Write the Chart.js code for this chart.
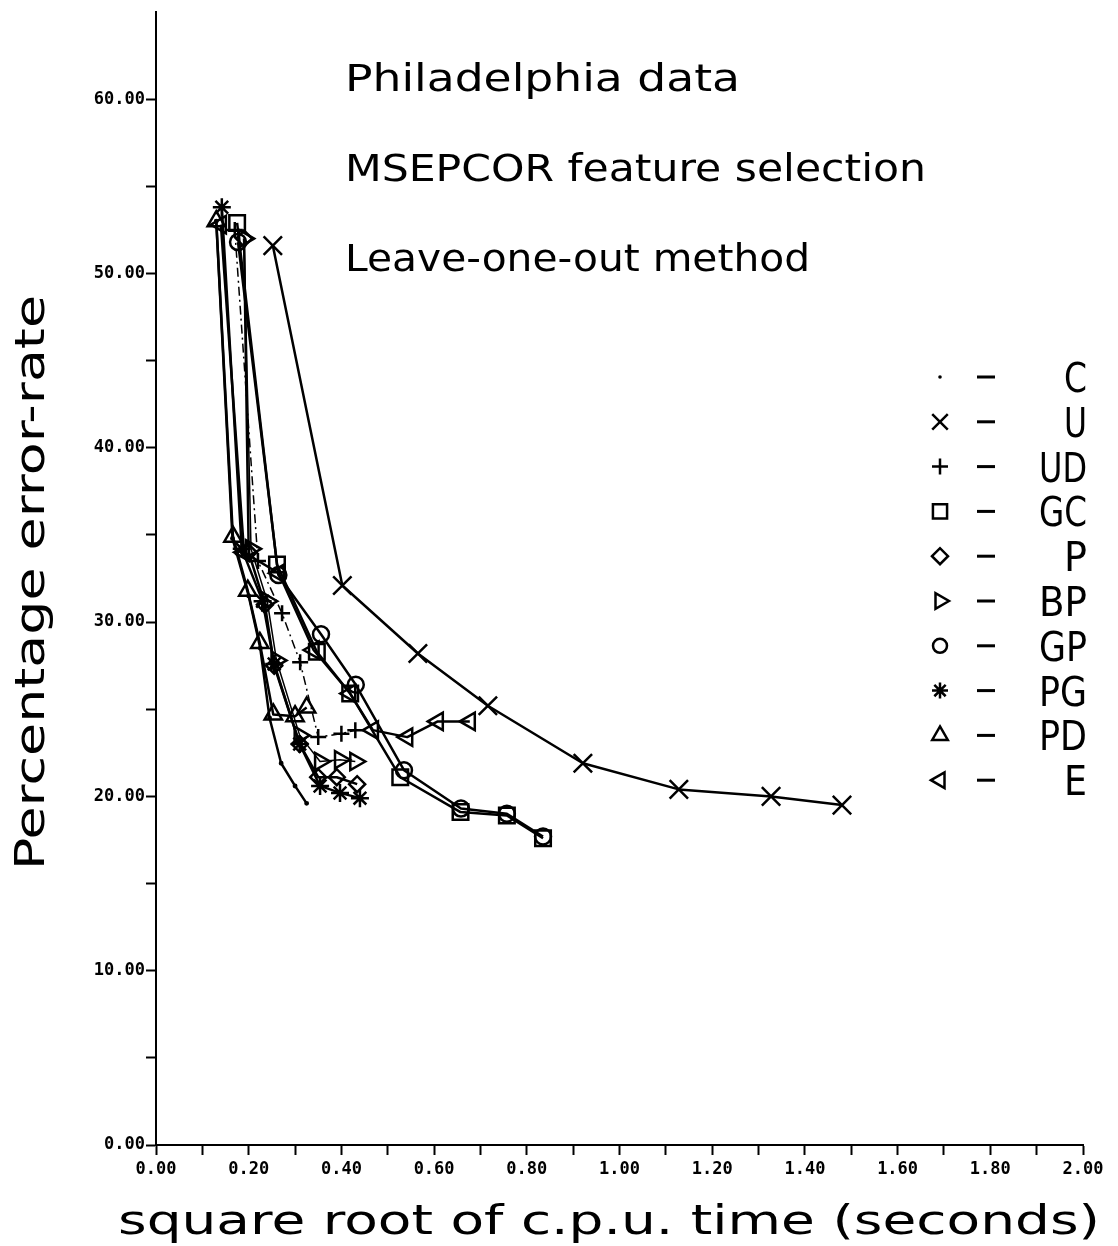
<!DOCTYPE html>
<html>
<head>
<meta charset="utf-8">
<script src="https://cdn.jsdelivr.net/npm/chart.js@4/dist/chart.umd.min.js"></script>
<style>
html,body{margin:0;padding:0;background:#fff;}
#wrap{width:1118px;height:1246px;}
</style>
</head>
<body>
<div id="wrap"><canvas id="c" width="1118" height="1246"></canvas></div>
<script>
// ---- data (x = sqrt cpu time in seconds, y = percentage error rate) ----
const seriesNames = ["C","U","UD","GC","P","BP","GP","PG","PD","E"];

const xC  = [0.130,0.165,0.200,0.225,0.245,0.270,0.300,0.325];
const yC  = [53.0, 34.8, 31.5, 28.5, 24.5, 21.9, 20.6, 19.6];

const xU  = [0.252,0.402,0.565,0.716,0.921,1.128,1.327,1.480];
const yU  = [51.6, 32.1, 28.2, 25.2, 21.9, 20.4, 20.0, 19.5];

const xUD = [0.170,0.220,0.272,0.311,0.350,0.400,0.430];
const yUD = [52.5, 33.5, 30.5, 27.7, 23.4, 23.6, 23.8];

const xGC = [0.175,0.261,0.347,0.419,0.527,0.657,0.757,0.835];
const yGC = [52.9, 33.3, 28.3, 25.9, 21.1, 19.1, 18.9, 17.6];

const xP  = [0.190,0.200,0.235,0.255,0.310,0.350,0.390,0.434];
const yP  = [52.0, 34.0, 31.0, 27.5, 23.0, 21.1, 21.1, 20.7];

const xBP = [0.190,0.205,0.240,0.260,0.310,0.354,0.397,0.430];
const yBP = [52.0, 34.2, 31.2, 27.8, 23.5, 22.0, 22.1, 22.0];

const xGP = [0.177,0.264,0.356,0.431,0.535,0.658,0.757,0.835];
const yGP = [51.8, 32.7, 29.3, 26.4, 21.5, 19.3, 19.0, 17.7];

const xPG = [0.142,0.185,0.230,0.255,0.310,0.354,0.397,0.440];
const yPG = [53.8, 34.2, 31.2, 27.6, 23.0, 20.6, 20.2, 19.9];

const xPD = [0.130,0.166,0.198,0.224,0.253,0.300,0.325];
const yPD = [53.0, 34.9, 31.8, 28.8, 24.7, 24.6, 25.1];

const xE  = [0.140,0.190,0.265,0.340,0.419,0.468,0.542,0.608,0.677];
const yE  = [52.8, 34.0, 32.8, 28.4, 25.9, 23.8, 23.4, 24.3, 24.3];

const xTicksLabelled = [0,0.2,0.4,0.6,0.8,1.0,1.2,1.4,1.6,1.8,2.0];
const yTicksLabelled = [0,10,20,30,40,50,60];

const headings = ["Philadelphia data","MSEPCOR feature selection","Leave-one-out method"];
const xTitle = "square root of c.p.u. time (seconds)";
const yTitle = "Percentage error-rate";

// ---- styles ----
const styleOf = {
  C:  {pointStyle:'circle',   radius:1.2, legendR:1.8, rotation:0,   fill:true,  dash:[],        width:2.5},
  U:  {pointStyle:'crossRot', radius:13,  legendR:11,  rotation:0,   fill:false, dash:[],        width:2.5},
  UD: {pointStyle:'cross',    radius:8,   legendR:8,   rotation:0,   fill:false, dash:[9,4,2,4], width:1.5},
  GC: {pointStyle:'rect',     radius:11,  legendR:10,  rotation:0,   fill:false, dash:[],        width:2.5},
  P:  {pointStyle:'rectRot',  radius:8,   legendR:8,   rotation:0,   fill:false, dash:[],        width:2.5},
  BP: {pointStyle:'triangle', radius:10,  legendR:9,   rotation:90,  fill:false, dash:[],        width:1.5},
  GP: {pointStyle:'circle',   radius:8,   legendR:7,   rotation:0,   fill:false, dash:[],        width:2.5},
  PG: {pointStyle:'star',     radius:9,   legendR:8,   rotation:0,   fill:false, dash:[],        width:2.5},
  PD: {pointStyle:'triangle', radius:10,  legendR:9,   rotation:0,   fill:false, dash:[],        width:2.5},
  E:  {pointStyle:'triangle', radius:10,  legendR:9,   rotation:-90, fill:false, dash:[],        width:2.5}
};
const dataOf = {C:[xC,yC],U:[xU,yU],UD:[xUD,yUD],GC:[xGC,yGC],P:[xP,yP],BP:[xBP,yBP],GP:[xGP,yGP],PG:[xPG,yPG],PD:[xPD,yPD],E:[xE,yE]};

const datasets = seriesNames.map(n => {
  const s = styleOf[n];
  const [xs, ys] = dataOf[n];
  return {
    label: n,
    data: xs.map((x,i)=>({x:x, y:ys[i]})),
    borderColor:'#000',
    backgroundColor: s.fill ? '#000' : 'rgba(0,0,0,0)',
    borderWidth: s.width,
    borderDash: s.dash,
    pointStyle: s.pointStyle,
    pointRadius: s.radius,
    pointRotation: s.rotation,
    pointBorderWidth: 2.5,
    pointBorderColor:'#000',
    pointBackgroundColor: s.fill ? '#000' : 'rgba(0,0,0,0)',
    tension:0,
    fill:false
  };
});

function fitText(ctx, text, x, y, size, targetW, align, font){
  ctx.save();
  ctx.font = size + 'px ' + font;
  const w = ctx.measureText(text).width;
  const sx = targetW / w;
  ctx.translate(x, y);
  ctx.scale(sx, 1);
  ctx.textBaseline = 'alphabetic';
  let ox = 0;
  if (align === 'right') ox = -w;
  else if (align === 'center') ox = -w/2;
  ctx.textAlign = 'left';
  ctx.fillText(text, ox, 0);
  ctx.restore();
}

const textPlugin = {
  id:'texts',
  afterDraw(chart){
    const ctx = chart.ctx;
    const FONT = '"DejaVu Sans", sans-serif';
    ctx.save();
    ctx.fillStyle = '#000';
    // headings
    fitText(ctx, headings[0], 345, 91, 37, 395, 'left', FONT);
    fitText(ctx, headings[1], 345, 181, 37, 581, 'left', FONT);
    fitText(ctx, headings[2], 345, 271, 37, 465, 'left', FONT);
    // x title
    fitText(ctx, xTitle, 118, 1234, 40, 982, 'left', FONT);
    // y title (rotated)
    ctx.save();
    ctx.translate(44, 870);
    ctx.rotate(-Math.PI/2);
    fitText(ctx, yTitle, 0, 0, 40, 575, 'left', FONT);
    ctx.restore();
    // legend
    const rowY0 = 377, rowDY = 44.8;
    seriesNames.forEach((n,i)=>{
      const y = rowY0 + i*rowDY;
      const s = styleOf[n];
      ctx.save();
      ctx.strokeStyle = '#000';
      ctx.fillStyle = '#000';
      ctx.lineWidth = 2.5;
      const opts = {pointStyle:s.pointStyle, radius:s.legendR, rotation:s.rotation, borderWidth:2.5};
      if (s.fill) { ctx.beginPath(); ctx.arc(940, y, s.legendR, 0, Math.PI*2); ctx.fill(); }
      else {
        ctx.fillStyle = 'rgba(0,0,0,0)';
        Chart.helpers.drawPoint(ctx, opts, 940, y);
      }
      ctx.restore();
      ctx.fillRect(977, y-1.5, 18, 3);
      fitText(ctx, n, 1087, y+15, 40, n.length===1 ? 23 : 48, 'right', FONT);
    });
    ctx.restore();
  }
};

new Chart(document.getElementById('c'), {
  type:'line',
  data:{datasets},
  plugins:[textPlugin],
  options:{
    responsive:false,
    animation:false,
    devicePixelRatio:1,
    layout:{autoPadding:false, padding:{top:12,right:35,left:0,bottom:0}},
    plugins:{legend:{display:false},tooltip:{enabled:false}},
    elements:{line:{borderJoinStyle:'round'}},
    scales:{
      x:{
        type:'linear', min:0, max:2,
        afterFit(s){ s.height = 101; },
        afterBuildTicks(s){ s.ticks = []; for(let i=0;i<=20;i++) s.ticks.push({value: i/10}); },
        ticks:{
          autoSkip:false, maxRotation:0, minRotation:0, padding:4, color:'#000',
          font:{family:'"DejaVu Sans Mono", monospace', size:17, weight:'bold'},
          callback(v){ const k=Math.round(v*10); return xTicksLabelled.some(t=>Math.round(t*10)===k) ? (k/10).toFixed(2) : ''; }
        },
        grid:{display:true, drawOnChartArea:false, drawTicks:true, tickLength:10, tickColor:'#000', tickWidth:2},
        border:{display:true, color:'#000', width:2}
      },
      y:{
        type:'linear', min:0, max:65,
        afterFit(s){ s.width = 156; },
        afterBuildTicks(s){ s.ticks = []; for(let v=0; v<=60; v+=5) s.ticks.push({value:v}); },
        ticks:{
          autoSkip:false, padding:1, color:'#000',
          font:{family:'"DejaVu Sans Mono", monospace', size:17, weight:'bold'},
          callback(v){ return yTicksLabelled.includes(v) ? v.toFixed(2) : ''; }
        },
        grid:{display:true, drawOnChartArea:false, drawTicks:true, tickLength:10, tickColor:'#000', tickWidth:2},
        border:{display:true, color:'#000', width:2}
      }
    }
  }
});
</script>
</body>
</html>
